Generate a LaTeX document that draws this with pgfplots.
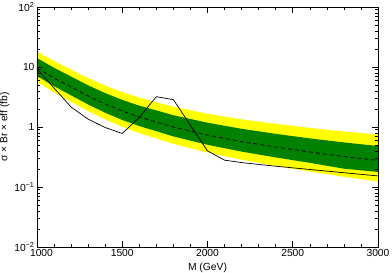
\documentclass[border=0pt]{standalone}
\usepackage{fontspec}
\setmainfont{Liberation Sans}
\usepackage{pgfplots}
\pgfplotsset{compat=1.18}
\usepgfplotslibrary{fillbetween}
\definecolor{bandgreen}{RGB}{0,130,0}
\definecolor{bandyellow}{RGB}{255,255,0}
\begin{document}
\begin{tikzpicture}
\fontsize{10}{12}\selectfont
\begin{axis}[
  at={(0,0)}, anchor=south west,
  scale only axis, width=341pt, height=240pt,
  ymode=log, xmin=1000, xmax=3000, ymin=0.01, ymax=100,
  xtick={1000,1500,2000,2500,3000},
  xticklabels={\hspace*{9pt}1000,1500,2000,2500,3000},
  minor xtick={1100,1200,1300,1400,1600,1700,1800,1900,2100,2200,2300,2400,2600,2700,2800,2900},
  ytick={0.01,0.1,1,10,100},
  yticklabels={10\textsuperscript{−2},10\textsuperscript{−1},1,10,10\textsuperscript{2}},
  minor ytick={0.02,0.03,0.04,0.05,0.06,0.07,0.08,0.09,0.2,0.3,0.4,0.5,0.6,0.7,0.8,0.9,2,3,4,5,6,7,8,9,20,30,40,50,60,70,80,90},
  tick align=inside,
  major tick length=6pt, minor tick length=3pt,
  tick style={black, line width=0.5pt},
  axis line style={black, line width=0.8pt},
  axis on top,
  ticklabel style={font=\fontsize{10.3}{12}\selectfont},
  xticklabel style={yshift=1pt},
  yticklabel style={xshift=1pt},
  xlabel={M (GeV)},
  ylabel={σ × Br × eff (fb)},
  xlabel style={font=\fontsize{10.3}{12}\selectfont, yshift=1pt},
  ylabel style={font=\fontsize{10.3}{12}\selectfont, yshift=-2pt},
]
\addplot[name path=yt, draw=none, forget plot] coordinates {
(1000,18.1)(1100,12.6)(1200,9.07)(1300,6.53)(1400,4.90)(1500,3.82)(1600,3.08)(1700,2.59)(1800,2.18)(1900,1.905)(2000,1.66)(2200,1.34)(2400,1.13)(2600,0.966)(2800,0.843)(3000,0.75)};
\addplot[name path=yb, draw=none, forget plot] coordinates {
(1000,5.62)(1100,3.78)(1200,2.64)(1300,1.845)(1400,1.34)(1500,1.01)(1600,0.791)(1700,0.645)(1800,0.525)(1900,0.444)(2000,0.376)(2200,0.285)(2400,0.225)(2600,0.181)(2800,0.148)(3000,0.1235)};
\addplot[name path=gt, draw=none, forget plot] coordinates {
(1000,14.1)(1100,9.70)(1200,6.93)(1300,4.95)(1400,3.67)(1500,2.83)(1600,2.27)(1700,1.89)(1800,1.57)(1900,1.36)(2000,1.18)(2200,0.933)(2400,0.769)(2600,0.646)(2800,0.553)(3000,0.482)};
\addplot[name path=gb, draw=none, forget plot] coordinates {
(1000,7.08)(1100,4.79)(1200,3.37)(1300,2.37)(1400,1.73)(1500,1.31)(1600,1.037)(1700,0.851)(1800,0.697)(1900,0.593)(2000,0.506)(2200,0.389)(2400,0.311)(2600,0.253)(2800,0.202)(3000,0.178)};
\addplot[bandyellow, draw=none] fill between[of=yt and yb];
\addplot[bandgreen, draw=none] fill between[of=gt and gb];
\addplot[black, line width=0.8pt, dash pattern=on 4pt off 3pt] coordinates {
(1000,9.62)(1100,6.55)(1200,4.64)(1300,3.29)(1400,2.42)(1500,1.85)(1600,1.47)(1700,1.21)(1800,1.0)(1900,0.857)(2000,0.735)(2200,0.57)(2400,0.464)(2600,0.383)(2800,0.322)(3000,0.277)};
\addplot[black, line width=0.7pt] coordinates {
(1000,9.3)(1200,2.15)(1300,1.35)(1400,0.98)(1500,0.78)(1600,1.45)(1700,3.2)(1800,2.85)(2000,0.40)(2100,0.28)(2200,0.255)(2400,0.222)(2600,0.196)(2800,0.173)(3000,0.153)};
\end{axis}
\pgfresetboundingbox
\path (-37pt,-26pt) rectangle (355pt,247pt);
\end{tikzpicture}
\end{document}
